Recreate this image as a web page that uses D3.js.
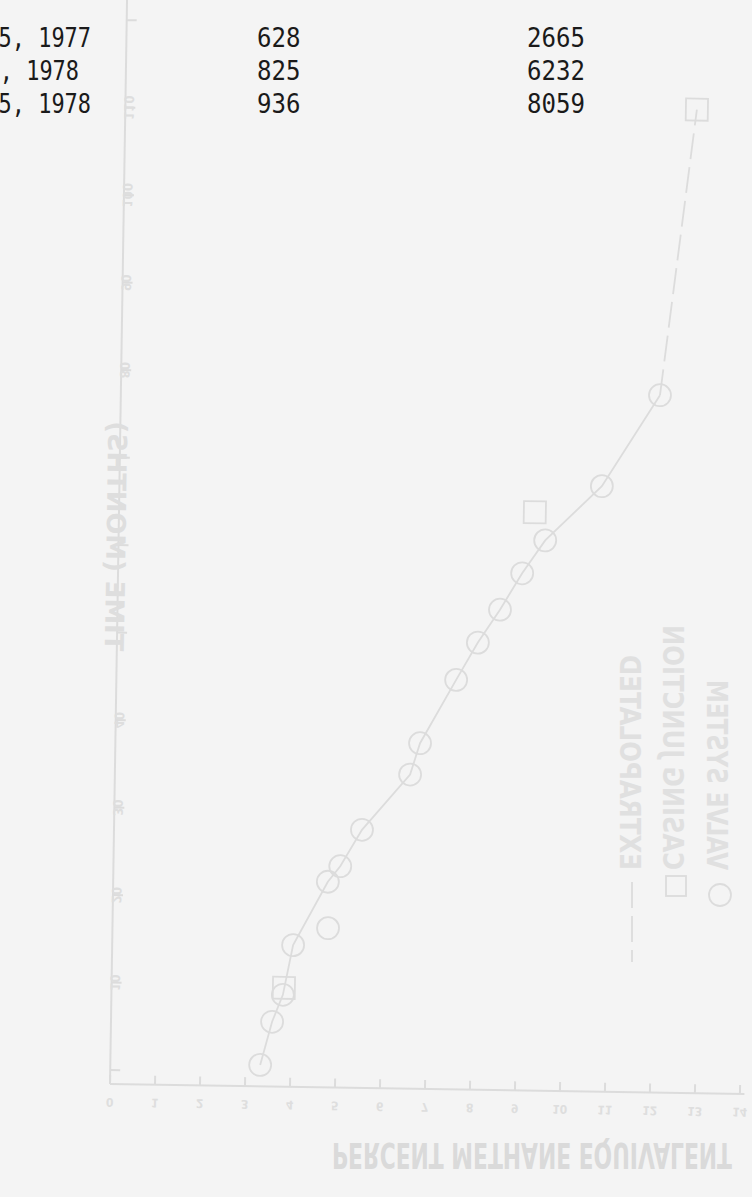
<!DOCTYPE html>
<html><head><meta charset="utf-8">
<script src="https://cdn.jsdelivr.net/npm/d3@7"></script>
<style>
html,body{margin:0;padding:0;background:#f4f4f4;}
svg{display:block;}
</style></head>
<body>
<script>
// ---- data ----
const tableDates = ["15, 1977", "1, 1978", "15, 1978"];
const tableCol2 = ["628", "825", "936"];
const tableCol3 = ["2665", "6232", "8059"];

const xTicks = [0,1,2,3,4,5,6,7,8,9,10,11,12,13,14];
const yTicks = [0,10,20,30,40,50,60,70,80,90,100,110,120];
const yTickLabels = [10,20,30,40,80,90,100,110];

// valve system (circles) connected by solid line: [percent, months]
const valveX = [3.33, 3.58, 3.81, 4.02, 4.77, 5.04, 5.51, 6.56, 6.77, 7.55, 8.02, 8.50, 8.98, 9.48, 10.72, 11.98];
const valveY = [0.85, 5.8, 8.9, 14.6, 21.9, 23.7, 27.9, 34.3, 37.9, 45.2, 49.5, 53.3, 57.5, 61.3, 67.6, 78.1];
// valve point off the line
const valveOffX = [4.79];
const valveOffY = [16.6];
// casing junction (squares)
const casingX = [3.83, 9.24, 12.70];
const casingY = [9.7, 64.5, 110.8];
// extrapolated (dashed)
const extraX = [11.98, 12.70];
const extraY = [78.1, 110.8];

const legendLabels = ["EXTRAPOLATED", "CASING JUNCTION", "VALVE SYSTEM"];
const xTitle = "PERCENT METHANE EQUIVALENT";
const yTitle = "TIME (MONTHS)";

// ---- drawing ----
const W = 752, H = 1197;
const ink = "#dcdcdc", txt = "#dedede";
const svg = d3.select("body").append("svg").attr("width", W).attr("height", H);
svg.append("rect").attr("width", W).attr("height", H).attr("fill", "#f4f4f4");

const x = d3.scaleLinear().domain([0, 14]).range([110, 740]);
const y = d3.scaleLinear().domain([-1.6, 120]).range([1084, 20]);
const font = "DejaVu Sans Condensed, DejaVu Sans";

// slightly skewed scan: rotate plot about the origin corner
const plot = svg.append("g").attr("transform", "rotate(0.9,110,1084)");

// axes lines
plot.append("line").attr("x1", x(0)).attr("x2", x(0)).attr("y1", y(-1.6)).attr("y2", -10)
  .attr("stroke", ink).attr("stroke-width", 2);
plot.append("line").attr("x1", x(0)).attr("x2", x(14.1)).attr("y1", y(-1.6)).attr("y2", y(-1.6))
  .attr("stroke", ink).attr("stroke-width", 2);

// x ticks (pointing up into plot)
plot.selectAll(".xt").data(xTicks).join("line")
  .attr("x1", d => x(d)).attr("x2", d => x(d))
  .attr("y1", y(-1.6)).attr("y2", y(-1.6) - 9)
  .attr("stroke", ink).attr("stroke-width", 2);
plot.selectAll(".xl").data(xTicks).join("text")
  .attr("transform", d => `translate(${x(d)},${y(-1.6) + 14}) scale(1,-1)`)
  .attr("text-anchor", "middle")
  .attr("font-family", font)
  .attr("font-weight", "bold").attr("font-size", 12).attr("fill", txt)
  .text(d => d);

// y ticks
plot.selectAll(".yt").data(yTicks).join("line")
  .attr("x1", x(0)).attr("x2", x(0) + 10)
  .attr("y1", d => y(d)).attr("y2", d => y(d))
  .attr("stroke", ink).attr("stroke-width", 2);
plot.selectAll(".yl").data(yTickLabels).join("text")
  .attr("transform", d => `translate(${x(0) - 1},${y(d)}) scale(1,-1) rotate(90)`)
  .attr("text-anchor", "middle")
  .attr("font-family", font)
  .attr("font-weight", "bold").attr("font-size", 13).attr("fill", txt)
  .text(d => d);

// y title
plot.append("text")
  .attr("transform", `translate(${x(0) - 12},${y(61)}) scale(1,-1) rotate(90)`)
  .attr("text-anchor", "middle")
  .attr("font-family", font)
  .attr("font-weight", "bold").attr("font-size", 26).attr("fill", txt)
  .attr("textLength", 230).attr("lengthAdjust", "spacingAndGlyphs")
  .text(yTitle);

// lines
const valvePts = valveX.map((v, i) => [v, valveY[i]]);
const extraPts = extraX.map((v, i) => [v, extraY[i]]);
const ln = d3.line().x(d => x(d[0])).y(d => y(d[1]));
plot.append("path").attr("d", ln(valvePts)).attr("fill", "none").attr("stroke", ink).attr("stroke-width", 1.8);
plot.append("path").attr("d", ln(extraPts)).attr("fill", "none").attr("stroke", ink).attr("stroke-width", 1.8)
  .attr("stroke-dasharray", "26,8");

// markers
const allCircles = valvePts.concat(valveOffX.map((v, i) => [v, valveOffY[i]]));
plot.selectAll(".vc").data(allCircles).join("circle")
  .attr("cx", d => x(d[0])).attr("cy", d => y(d[1])).attr("r", 11)
  .attr("fill", "none").attr("stroke", ink).attr("stroke-width", 1.8);
plot.selectAll(".cs").data(casingX.map((v, i) => [v, casingY[i]])).join("rect")
  .attr("x", d => x(d[0]) - 11).attr("y", d => y(d[1]) - 11)
  .attr("width", 22).attr("height", 22)
  .attr("fill", "none").attr("stroke", ink).attr("stroke-width", 1.8);

// x title (upside-down, mirrored scan)
svg.append("text")
  .attr("transform", `translate(532,1143) scale(1,-1)`)
  .attr("text-anchor", "middle")
  .attr("font-family", font)
  .attr("font-weight", "bold").attr("font-size", 36).attr("fill", "#dadada")
  .attr("textLength", 400).attr("lengthAdjust", "spacingAndGlyphs")
  .text(xTitle);

// legend (rotated, mirrored)
const legX = [632, 676, 720];
const legTx = [620, 663, 707];
const legLen = [215, 245, 190];
const lg = svg.append("g");
legendLabels.forEach((t, i) => {
  lg.append("text")
    .attr("transform", `translate(${legTx[i]},870) scale(1,-1) rotate(90)`)
    .attr("text-anchor", "start")
    .attr("font-family", font)
    .attr("font-weight", "bold").attr("font-size", 29).attr("fill", "#e0e0e0")
    .attr("textLength", legLen[i]).attr("lengthAdjust", "spacingAndGlyphs")
    .text(t);
});
lg.append("line").attr("x1", legX[0]).attr("x2", legX[0]).attr("y1", 882).attr("y2", 962)
  .attr("stroke", ink).attr("stroke-width", 1.8).attr("stroke-dasharray", "26,8");
lg.append("rect").attr("x", legX[1] - 10).attr("y", 876).attr("width", 20).attr("height", 20)
  .attr("fill", "none").attr("stroke", ink).attr("stroke-width", 1.8);
lg.append("circle").attr("cx", legX[2]).attr("cy", 895).attr("r", 11)
  .attr("fill", "none").attr("stroke", ink).attr("stroke-width", 1.8);

// top table (dark, normal text)
const rowsY = [47, 80, 113];
const rowsEnd = [91, 79, 91];
const tf = "DejaVu Sans Mono, monospace";
svg.selectAll(".c1").data(tableDates).join("text")
  .attr("x", (d, i) => rowsEnd[i]).attr("y", (d, i) => rowsY[i]).attr("text-anchor", "end")
  .attr("font-family", tf).attr("font-size", 26).attr("fill", "#1a1a1a")
  .attr("textLength", d => d.length * 13.2).attr("lengthAdjust", "spacingAndGlyphs")
  .text(d => d);
svg.selectAll(".c2").data(tableCol2).join("text")
  .attr("x", 257).attr("y", (d, i) => rowsY[i])
  .attr("font-family", tf).attr("font-size", 26).attr("fill", "#1a1a1a")
  .attr("textLength", d => d.length * 14.5).attr("lengthAdjust", "spacingAndGlyphs")
  .text(d => d);
svg.selectAll(".c3").data(tableCol3).join("text")
  .attr("x", 527).attr("y", (d, i) => rowsY[i])
  .attr("font-family", tf).attr("font-size", 26).attr("fill", "#1a1a1a")
  .attr("textLength", d => d.length * 14.5).attr("lengthAdjust", "spacingAndGlyphs")
  .text(d => d);
</script>
</body></html>
